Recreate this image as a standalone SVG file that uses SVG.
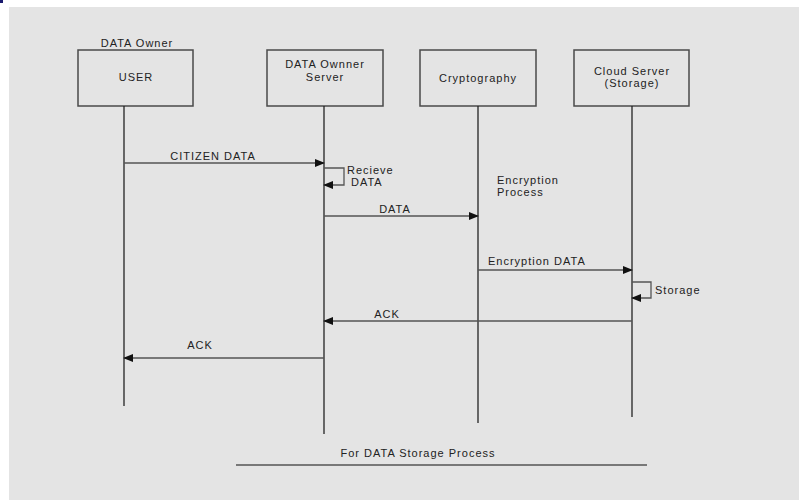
<svg xmlns="http://www.w3.org/2000/svg" width="799" height="500" viewBox="0 0 799 500">
<style>
.bg{fill:#e4e4e4}
.box{fill:#e4e4e4;stroke:#4a4a4a;stroke-width:1.5}
.life{stroke:#222;stroke-width:1.3;fill:none}
.msg{stroke:#555;stroke-width:1.3;fill:none}
text{font-family:"Liberation Sans",Arial,sans-serif;font-size:11px;fill:#222;letter-spacing:1px}
.c{text-anchor:middle}
</style>
<defs>
<marker id="ah" markerWidth="10" markerHeight="8" refX="9" refY="4" orient="auto" markerUnits="userSpaceOnUse">
<path d="M0,0 L10,4 L0,8 Z" fill="#111"/>
</marker>
</defs>
<rect x="0" y="0" width="799" height="500" fill="#ffffff"/>
<rect class="bg" x="9" y="7" width="790" height="493"/>
<rect x="0" y="0" width="3" height="3" fill="#1a1a6e"/>

<g id="user">
<text class="c" x="137" y="47">DATA Owner</text>
<rect class="box" x="78" y="50" width="115" height="56"/>
<text class="c" x="136" y="81">USER</text>
<line class="life" x1="124" y1="106" x2="124" y2="406"/>
</g>
<g id="owner-server">
<rect class="box" x="267" y="50" width="116" height="56"/>
<text class="c" x="325" y="68">DATA Ownner</text>
<text class="c" x="325" y="81">Server</text>
<line class="life" x1="324" y1="106" x2="324" y2="434"/>
</g>
<g id="cryptography">
<rect class="box" x="420" y="50" width="116" height="56"/>
<text class="c" x="478" y="82">Cryptography</text>
<line class="life" x1="478" y1="106" x2="478" y2="423"/>
<text x="497" y="184">Encryption</text>
<text x="497" y="196">Process</text>
</g>
<g id="cloud-server">
<rect class="box" x="574" y="50" width="115" height="56"/>
<text class="c" x="632" y="75">Cloud Server</text>
<text class="c" x="632" y="87">(Storage)</text>
<line class="life" x1="632" y1="106" x2="632" y2="417"/>
</g>

<g id="connectors">
<line class="msg" x1="124" y1="163" x2="324" y2="163" marker-end="url(#ah)"/>
<text class="c" x="213" y="160">CITIZEN DATA</text>
<polyline class="msg" points="324,168 344,168 344,185 324,185" marker-end="url(#ah)"/>
<text x="347" y="174">Recieve</text>
<text x="351" y="186">DATA</text>
<line class="msg" x1="324" y1="216" x2="478" y2="216" marker-end="url(#ah)"/>
<text class="c" x="395" y="213">DATA</text>
<line class="msg" x1="478" y1="270" x2="632" y2="270" marker-end="url(#ah)"/>
<text x="488" y="265">Encryption DATA</text>
<polyline class="msg" points="632,282 651,282 651,298 632,298" marker-end="url(#ah)"/>
<text x="655" y="294">Storage</text>
<line class="msg" x1="632" y1="321" x2="324" y2="321" marker-end="url(#ah)"/>
<text class="c" x="387" y="318">ACK</text>
<line class="msg" x1="324" y1="358" x2="124" y2="358" marker-end="url(#ah)"/>
<text class="c" x="200" y="349">ACK</text>
</g>

<g id="caption">
<text class="c" x="418" y="457">For DATA Storage Process</text>
<line x1="236" y1="465" x2="647" y2="465" stroke="#555" stroke-width="1.3"/>
</g>
</svg>
